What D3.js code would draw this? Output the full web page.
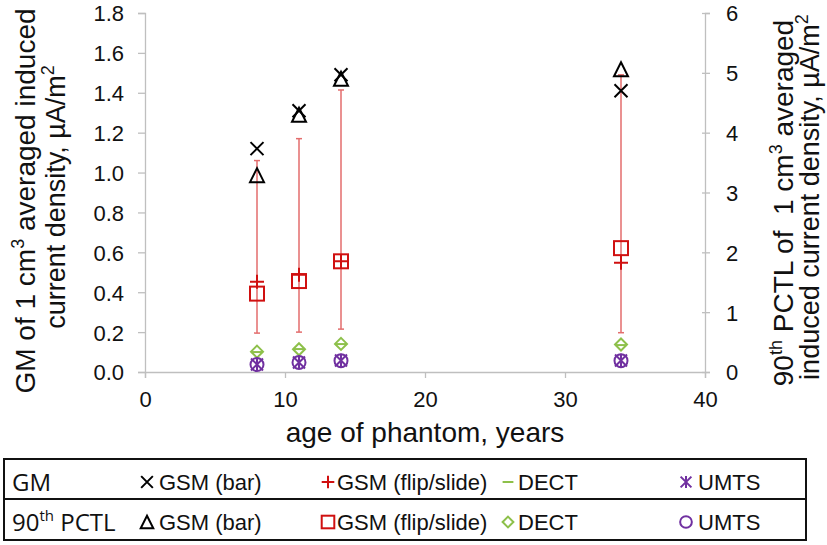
<!DOCTYPE html>
<html>
<head>
<meta charset="utf-8">
<script src="https://cdn.jsdelivr.net/npm/d3@7"></script>
<style>
  html, body { margin: 0; padding: 0; background: #fff; }
  svg { display: block; font-family: "Liberation Sans", Arial, sans-serif; }
</style>
</head>
<body>
<svg id="chart" width="827" height="545"></svg>
<script>
// ---- data ----
const ages = [8, 11, 14, 34];
// GM (left axis, µA/m²)
const gmGsmBar  = [1.12, 1.31, 1.49, 1.41];
const gmGsmFlip = [0.453, 0.487, 0.555, 0.548];
const gmDect    = [0.10, 0.115, 0.14, 0.135];
const gmUmts    = [0.038, 0.048, 0.058, 0.058];
const errLow    = [0.195, 0.20, 0.215, 0.197];
const errHigh   = [1.06, 1.17, 1.414, 1.49];
// 90th PCTL (right axis, µA/m²)
const p90GsmBar  = [3.29, 4.30, 4.90, 5.06];
const p90GsmFlip = [1.31, 1.52, 1.85, 2.07];
const p90Dect    = [0.34, 0.38, 0.47, 0.46];
const p90Umts    = [0.125, 0.16, 0.19, 0.19];
// ticks
const xTicks = [0, 10, 20, 30, 40];
const yLeftTicks = [0, 0.2, 0.4, 0.6, 0.8, 1.0, 1.2, 1.4, 1.6, 1.8];
const yRightTicks = [0, 1, 2, 3, 4, 5, 6];

const svg = d3.select("#chart");
const x = d3.scaleLinear().domain([0, 40]).range([145, 705]);
const yL = d3.scaleLinear().domain([0, 1.8]).range([372, 13]);
const yR = d3.scaleLinear().domain([0, 6]).range([372, 13]);

const axisColor = "#bfbfbf";
const BLACK = "#000", RED = "#d01010", GREEN = "#8dc04a", PURPLE = "#7030a0";

function styleAxis(g) {
  g.selectAll(".domain").attr("stroke", axisColor).attr("stroke-width", 1.3);
  g.selectAll(".tick line").attr("stroke", axisColor).attr("stroke-width", 1.3);
  g.selectAll(".tick text").attr("fill", "#111").style("font-size", "22px")
    .style("font-family", '"Liberation Sans", Arial, sans-serif');
}

// x axis
const gx = svg.append("g").attr("transform", "translate(0,372)")
  .call(d3.axisBottom(x).tickValues(xTicks).tickSizeOuter(0).tickSize(6).tickPadding(13));
styleAxis(gx);

// left axis
const gl = svg.append("g").attr("transform", "translate(145,0)")
  .call(d3.axisLeft(yL).tickValues(yLeftTicks).tickFormat(d3.format(".1f")).tickSizeOuter(0).tickSize(7).tickPadding(14));
styleAxis(gl);
gl.selectAll(".tick text").attr("dy", "0.36em");

// right axis
const gr = svg.append("g").attr("transform", "translate(705,0)")
  .call(d3.axisRight(yR).tickValues(yRightTicks).tickFormat(d3.format("d")).tickSizeOuter(0).tickSize(5).tickPadding(16));
styleAxis(gr);
gr.selectAll(".tick line").attr("x1", -3);
gr.selectAll(".tick text").attr("dy", "0.36em");

// axis titles
svg.append("text").attr("x", x(20)).attr("y", 442).attr("text-anchor", "middle")
  .style("font-size", "28px").attr("fill", "#111").text("age of phantom, years");

const lt = svg.append("text").attr("transform", "translate(35,201) rotate(-90)")
  .attr("text-anchor", "middle").style("font-size", "28px").attr("fill", "#111");
lt.append("tspan").attr("x", 0).attr("y", 0).text("GM of 1 cm");
lt.append("tspan").attr("dy", -11).style("font-size", "18px").text("3");
lt.append("tspan").attr("dy", 11).text(" averaged induced");
const lt2 = svg.append("text").attr("transform", "translate(65,197) rotate(-90)")
  .attr("text-anchor", "middle").style("font-size", "27px").attr("fill", "#111");
lt2.append("tspan").text("current density, \u00b5A/m");
lt2.append("tspan").attr("dy", -11).style("font-size", "18px").text("2");

const rt = svg.append("text").attr("transform", "translate(793,203) rotate(-90)")
  .attr("text-anchor", "middle").style("font-size", "28px").attr("fill", "#111");
rt.append("tspan").text("90");
rt.append("tspan").attr("dy", -11).style("font-size", "18px").text("th");
rt.append("tspan").attr("dy", 11).text(" PCTL of \u00a01 cm");
rt.append("tspan").attr("dy", -11).style("font-size", "18px").text("3");
rt.append("tspan").attr("dy", 11).text(" averaged");
const rt2 = svg.append("text").attr("transform", "translate(819,197) rotate(-90)")
  .attr("text-anchor", "middle").style("font-size", "27px").attr("fill", "#111");
rt2.append("tspan").text("induced current density, \u00b5A/m");
rt2.append("tspan").attr("dy", -11).style("font-size", "18px").text("2");

// ---- marker drawing ----
function marker(g, type, cx, cy, color, s) {
  s = s || 1;
  const sw = 2;
  if (type === "x") {
    const r = 6.5 * s;
    g.append("path").attr("d", `M${cx-r},${cy-r}L${cx+r},${cy+r}M${cx-r},${cy+r}L${cx+r},${cy-r}`)
      .attr("stroke", color).attr("stroke-width", sw).attr("fill", "none");
  } else if (type === "plus") {
    const r = 7 * s;
    g.append("path").attr("d", `M${cx-r},${cy}L${cx+r},${cy}M${cx},${cy-r}L${cx},${cy+r}`)
      .attr("stroke", color).attr("stroke-width", sw).attr("fill", "none");
  } else if (type === "dash") {
    const r = 6 * s;
    g.append("path").attr("d", `M${cx-r},${cy}L${cx+r},${cy}`)
      .attr("stroke", color).attr("stroke-width", sw).attr("fill", "none");
  } else if (type === "star") {
    const r = 6 * s;
    g.append("path").attr("d", `M${cx-r},${cy-r}L${cx+r},${cy+r}M${cx-r},${cy+r}L${cx+r},${cy-r}M${cx},${cy-r*1.1}L${cx},${cy+r*1.1}`)
      .attr("stroke", color).attr("stroke-width", sw).attr("fill", "none");
  } else if (type === "tri") {
    const w = 7 * s, h = 7 * s;
    g.append("path").attr("d", `M${cx},${cy-h}L${cx+w},${cy+h}L${cx-w},${cy+h}Z`)
      .attr("stroke", color).attr("stroke-width", sw).attr("fill", "none").attr("stroke-linejoin", "miter");
  } else if (type === "square") {
    const r = 7 * s;
    g.append("rect").attr("x", cx-r).attr("y", cy-r).attr("width", 2*r).attr("height", 2*r)
      .attr("stroke", color).attr("stroke-width", sw).attr("fill", "none");
  } else if (type === "diamond") {
    const r = 6 * s;
    g.append("path").attr("d", `M${cx},${cy-r}L${cx+r},${cy}L${cx},${cy+r}L${cx-r},${cy}Z`)
      .attr("stroke", color).attr("stroke-width", sw).attr("fill", "none");
  } else if (type === "circle") {
    g.append("circle").attr("cx", cx).attr("cy", cy).attr("r", 6.5 * s)
      .attr("stroke", color).attr("stroke-width", sw).attr("fill", "none");
  }
}

const plot = svg.append("g");

// error bars (GM GSM flip/slide)
ages.forEach((a, i) => {
  const cx = x(a);
  plot.append("line").attr("x1", cx).attr("x2", cx).attr("y1", yL(errLow[i])).attr("y2", yL(errHigh[i]))
    .attr("stroke", "#e36d6d").attr("stroke-width", 1.5);
  [errLow[i], errHigh[i]].forEach(v => {
    plot.append("line").attr("x1", cx - 3).attr("x2", cx + 3).attr("y1", yL(v)).attr("y2", yL(v))
      .attr("stroke", "#e36d6d").attr("stroke-width", 1.5);
  });
});

// 90th PCTL series (right axis)
ages.forEach((a, i) => {
  marker(plot, "tri", x(a), yR(p90GsmBar[i]), BLACK);
  marker(plot, "square", x(a), yR(p90GsmFlip[i]), RED);
  marker(plot, "diamond", x(a), yR(p90Dect[i]), GREEN);
  marker(plot, "circle", x(a), yR(p90Umts[i]), PURPLE);
});
// GM series (left axis)
ages.forEach((a, i) => {
  marker(plot, "x", x(a), yL(gmGsmBar[i]), BLACK);
  marker(plot, "plus", x(a), yL(gmGsmFlip[i]), RED);
  marker(plot, "dash", x(a), yL(gmDect[i]), GREEN);
  marker(plot, "star", x(a), yL(gmUmts[i]), PURPLE);
});

// ---- legend table ----
const leg = svg.append("g");
leg.append("rect").attr("x", 4).attr("y", 459).attr("width", 802).attr("height", 81)
  .attr("fill", "none").attr("stroke", "#111").attr("stroke-width", 2);
leg.append("line").attr("x1", 4).attr("x2", 806).attr("y1", 499).attr("y2", 499)
  .attr("stroke", "#111").attr("stroke-width", 2);

const rowLabels = ["GM", "90th PCTL"];
const rowY = [482, 522];
const legendNames = ["GSM (bar)", "GSM (flip/slide)", "DECT", "UMTS"];
const legendMarkX = [147, 328, 508, 686];
const legendTextX = [159, 337, 518, 698];
const gmMarkers = ["x", "plus", "dash", "star"];
const p90Markers = ["tri", "square", "diamond", "circle"];
const legColors = [BLACK, RED, GREEN, PURPLE];

// row labels
leg.append("text").attr("x", 12).attr("y", rowY[0] + 9).style("font-size", "24px")
  .style("font-family", '"Open Sans", sans-serif').attr("fill", "#111").text(rowLabels[0]);
const r2 = leg.append("text").attr("x", 12).attr("y", rowY[1] + 9).style("font-size", "24px")
  .style("font-family", '"Open Sans", sans-serif').attr("fill", "#111");
r2.append("tspan").text("90");
r2.append("tspan").attr("dy", -10).style("font-size", "15px").text("th");
r2.append("tspan").attr("dy", 10).text(" PCTL");

[gmMarkers, p90Markers].forEach((ms, r) => {
  ms.forEach((m, j) => {
    marker(leg, m, legendMarkX[j], rowY[r], legColors[j], 0.9);
    leg.append("text").attr("x", legendTextX[j]).attr("y", rowY[r] + 8)
      .style("font-size", "22px").attr("fill", "#111").text(legendNames[j]);
  });
});
</script>
</body>
</html>
